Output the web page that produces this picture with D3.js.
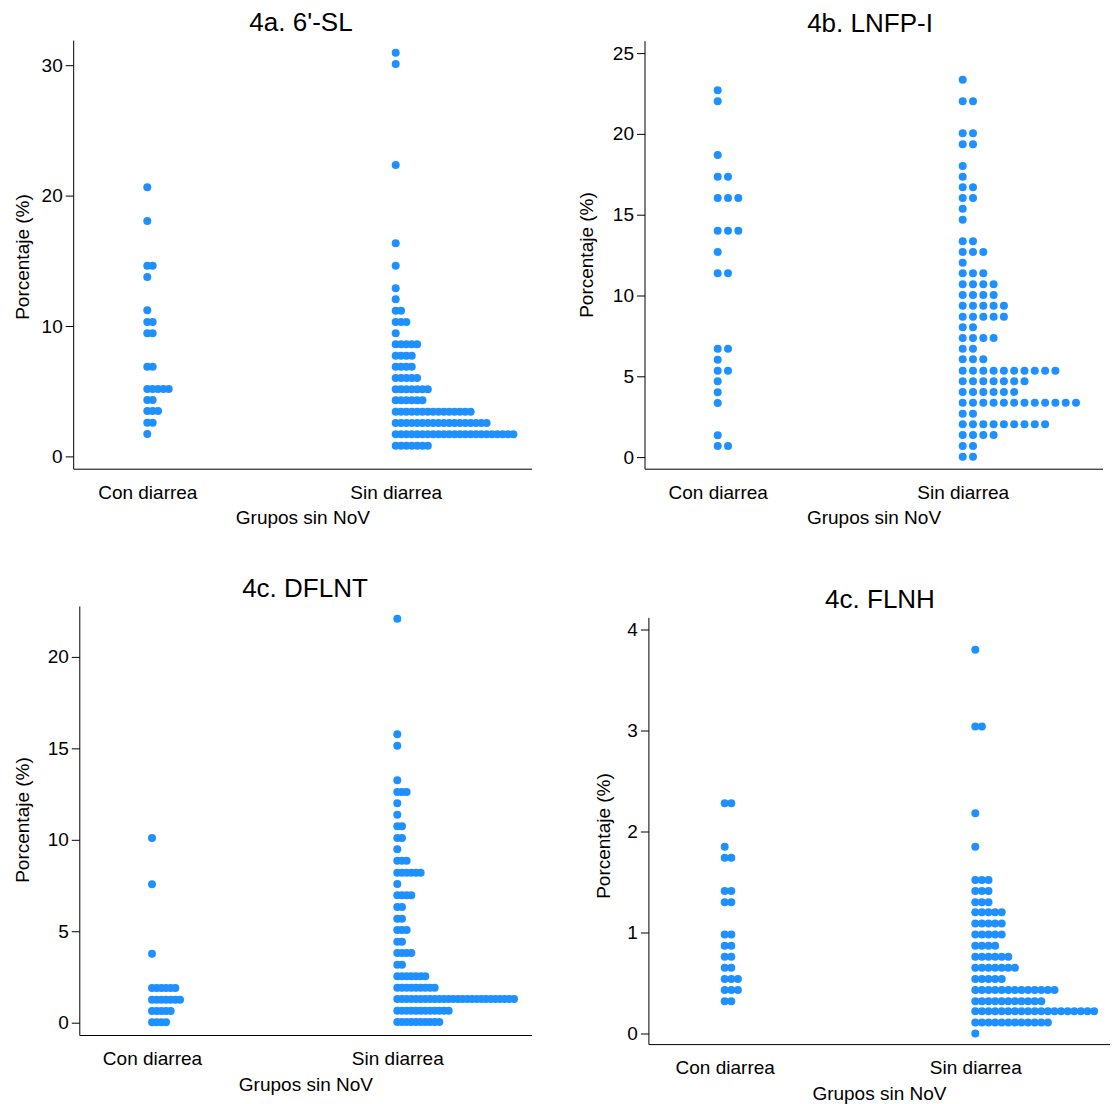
<!DOCTYPE html>
<html>
<head>
<meta charset="utf-8">
<script src="https://cdn.jsdelivr.net/npm/d3@7"></script>
<style>
  body { margin: 0; background: #fff; }
  svg { display: block; font-family: "Liberation Sans", Arial, sans-serif; }
</style>
</head>
<body>
<script>
// groups on the x axis
var groups = ["Con diarrea", "Sin diarrea"];
var titles = ["4a. 6'-SL", "4b. LNFP-I", "4c. DFLNT", "4c. FLNH"];

// 4a. 6'-SL : bin level (%) and number of dots in that bin
var slConLevels = [20.64, 18.05, 14.62, 13.76, 11.20, 10.31, 9.44, 6.88, 5.17, 4.33, 3.48, 2.58, 1.72];
var slConCounts = [1, 1, 2, 1, 1, 2, 2, 2, 5, 2, 3, 2, 1];
var slSinLevels = [30.96, 30.09, 22.35, 16.34, 14.62, 12.89, 12.05, 11.17, 10.31, 9.44, 8.60, 7.72, 6.88, 6.01, 5.15, 4.30, 3.43, 2.56, 1.69, 0.82];
var slSinCounts = [1, 1, 1, 1, 1, 1, 1, 2, 3, 1, 5, 4, 4, 5, 7, 6, 15, 18, 23, 7];

// 4b. LNFP-I
var lnConLevels = [22.70, 22.02, 18.69, 17.35, 16.03, 14.01, 12.69, 11.37, 6.71, 6.03, 5.35, 4.69, 4.01, 3.35, 1.35, 0.69];
var lnConCounts = [1, 1, 1, 2, 3, 3, 1, 2, 2, 1, 2, 1, 1, 1, 1, 2];
var lnSinLevels = [23.35, 22.02, 20.04, 19.36, 18.01, 17.35, 16.70, 16.03, 15.37, 14.69, 13.35, 12.69, 12.03, 11.37, 10.69, 10.03,
                   9.37, 8.69, 8.03, 7.37, 6.71, 6.05, 5.35, 4.69, 4.03, 3.37, 2.69, 2.03, 1.37, 0.69, 0.02];
var lnSinCounts = [1, 2, 2, 2, 1, 1, 2, 2, 1, 1, 2, 3, 1, 3, 4, 4, 5, 5, 2, 4, 2, 3, 10, 7, 6, 12, 2, 9, 4, 2, 2];

// 4c. DFLNT
var dfConLevels = [10.10, 7.57, 3.77, 1.90, 1.26, 0.64, 0.02];
var dfConCounts = [1, 1, 1, 6, 7, 5, 4];
var dfSinLevels = [22.09, 15.77, 15.14, 13.25, 12.61, 12.00, 11.37, 10.74, 10.10, 9.48, 8.86, 8.20, 7.58, 6.97, 6.33, 5.69,
                   5.07, 4.43, 3.81, 3.17, 2.54, 1.91, 1.30, 0.66, 0.04];
var dfSinCounts = [1, 1, 1, 1, 3, 1, 1, 2, 2, 1, 3, 6, 1, 4, 2, 2, 3, 2, 4, 2, 7, 9, 26, 12, 10];

// 4c. FLNH
var flConLevels = [2.28, 1.85, 1.74, 1.41, 1.30, 0.98, 0.87, 0.76, 0.65, 0.54, 0.43, 0.32];
var flConCounts = [2, 1, 2, 2, 2, 2, 2, 2, 2, 3, 3, 2];
var flSinLevels = [3.80, 3.04, 2.18, 1.85, 1.52, 1.41, 1.30, 1.20, 1.09, 0.98, 0.87, 0.76, 0.65, 0.54, 0.43, 0.32, 0.22, 0.11, 0.00];
var flSinCounts = [1, 2, 1, 1, 3, 3, 3, 5, 5, 5, 4, 6, 7, 5, 13, 11, 19, 12, 1];

var slTicks = [0, 10, 20, 30];
var lnTicks = [0, 5, 10, 15, 20, 25];
var dfTicks = [0, 5, 10, 15, 20];
var flTicks = [0, 1, 2, 3, 4];

var width = 1112, height = 1104;
var dotColour = "#1e90ff";

// layout of each panel, in page pixels
var panels = [
  { title: titles[0], ticks: slTicks, data: [[slConLevels, slConCounts], [slSinLevels, slSinCounts]],
    left: 73.7, right: 532, top: 40.6, bottom: 469.2, y0: 456.4, yMax: 65.2,
    catX: [147.3, 395.7], step: 5.35, titleX: 301, ylab: [22, 257] },
  { title: titles[1], ticks: lnTicks, data: [[lnConLevels, lnConCounts], [lnSinLevels, lnSinCounts]],
    left: 645, right: 1103, top: 41.2, bottom: 469.2, y0: 457.1, yMax: 53.1,
    catX: [717.7, 962.7], step: 10.3, titleX: 870, ylab: [586, 255] },
  { title: titles[2], ticks: dfTicks, data: [[dfConLevels, dfConCounts], [dfSinLevels, dfSinCounts]],
    left: 79.8, right: 532, top: 606.5, bottom: 1035.5, y0: 1022.7, yMax: 656.9,
    catX: [152, 397.3], step: 4.67, titleX: 305, ylab: [22, 820] },
  { title: titles[3], ticks: flTicks, data: [[flConLevels, flConCounts], [flSinLevels, flSinCounts]],
    left: 648.9, right: 1110, top: 617.8, bottom: 1044.6, y0: 1033.5, yMax: 629.5,
    catX: [724.7, 975.3], step: 6.6, titleX: 880, ylab: [602.6, 836] }
];

var svg = d3.select("body")
  .append("svg")
    .attr("width", width)
    .attr("height", height);

function drawPanel(p) {
  var g = svg.append("g");

  var y = d3.scaleLinear()
    .domain([0, d3.max(p.ticks)])
    .range([p.y0, p.yMax]);

  var x = d3.scalePoint()
    .domain(groups)
    .range(p.catX);

  // horizontal offset of the i-th dot in a bin
  var dx = d3.scaleLinear()
    .domain([0, 1])
    .range([0, p.step]);

  // dots
  groups.forEach(function(grp, gi) {
    var levels = p.data[gi][0], counts = p.data[gi][1];
    var dots = [];
    levels.forEach(function(v, k) {
      for (var i = 0; i < counts[k]; i++) dots.push({ v: v, i: i });
    });
    g.append("g").selectAll("circle")
      .data(dots)
      .enter()
        .append("circle")
          .attr("cx", function(d) { return x(grp) + dx(d.i); })
          .attr("cy", function(d) { return y(d.v); })
          .attr("r", 4)
          .attr("fill", dotColour);
  });

  // y axis
  var yAxis = g.append("g")
    .attr("transform", "translate(" + p.left + ",0)")
    .call(d3.axisLeft(y).tickValues(p.ticks).tickSize(8).tickPadding(3).tickFormat(d3.format("d")));
  yAxis.select(".domain").remove();
  yAxis.selectAll("text").attr("font-size", 19).attr("font-family", null).attr("fill", "#000");
  yAxis.selectAll("line").attr("stroke", "#000");

  g.append("line")
    .attr("x1", p.left).attr("x2", p.left)
    .attr("y1", p.top).attr("y2", p.bottom)
    .attr("stroke", "#000");

  // x axis
  var xAxis = g.append("g")
    .attr("transform", "translate(0," + p.bottom + ")")
    .call(d3.axisBottom(x).tickSize(0).tickPadding(16));
  xAxis.select(".domain").remove();
  xAxis.selectAll("text").attr("font-size", 19).attr("font-family", null).attr("fill", "#000");

  g.append("line")
    .attr("x1", p.left).attr("x2", p.right)
    .attr("y1", p.bottom).attr("y2", p.bottom)
    .attr("stroke", "#000");

  // titles
  g.append("text")
    .attr("x", p.titleX)
    .attr("y", p.top - 9.5)
    .attr("text-anchor", "middle")
    .attr("font-size", 26)
    .text(p.title);

  g.append("text")
    .attr("x", (p.left + p.right) / 2)
    .attr("y", p.bottom + 55)
    .attr("text-anchor", "middle")
    .attr("font-size", 19)
    .text("Grupos sin NoV");

  g.append("text")
    .attr("transform", "translate(" + (p.ylab[0] + 7) + "," + p.ylab[1] + ") rotate(-90)")
    .attr("text-anchor", "middle")
    .attr("font-size", 19)
    .text("Porcentaje (%)");
}

panels.forEach(drawPanel);
</script>
</body>
</html>
